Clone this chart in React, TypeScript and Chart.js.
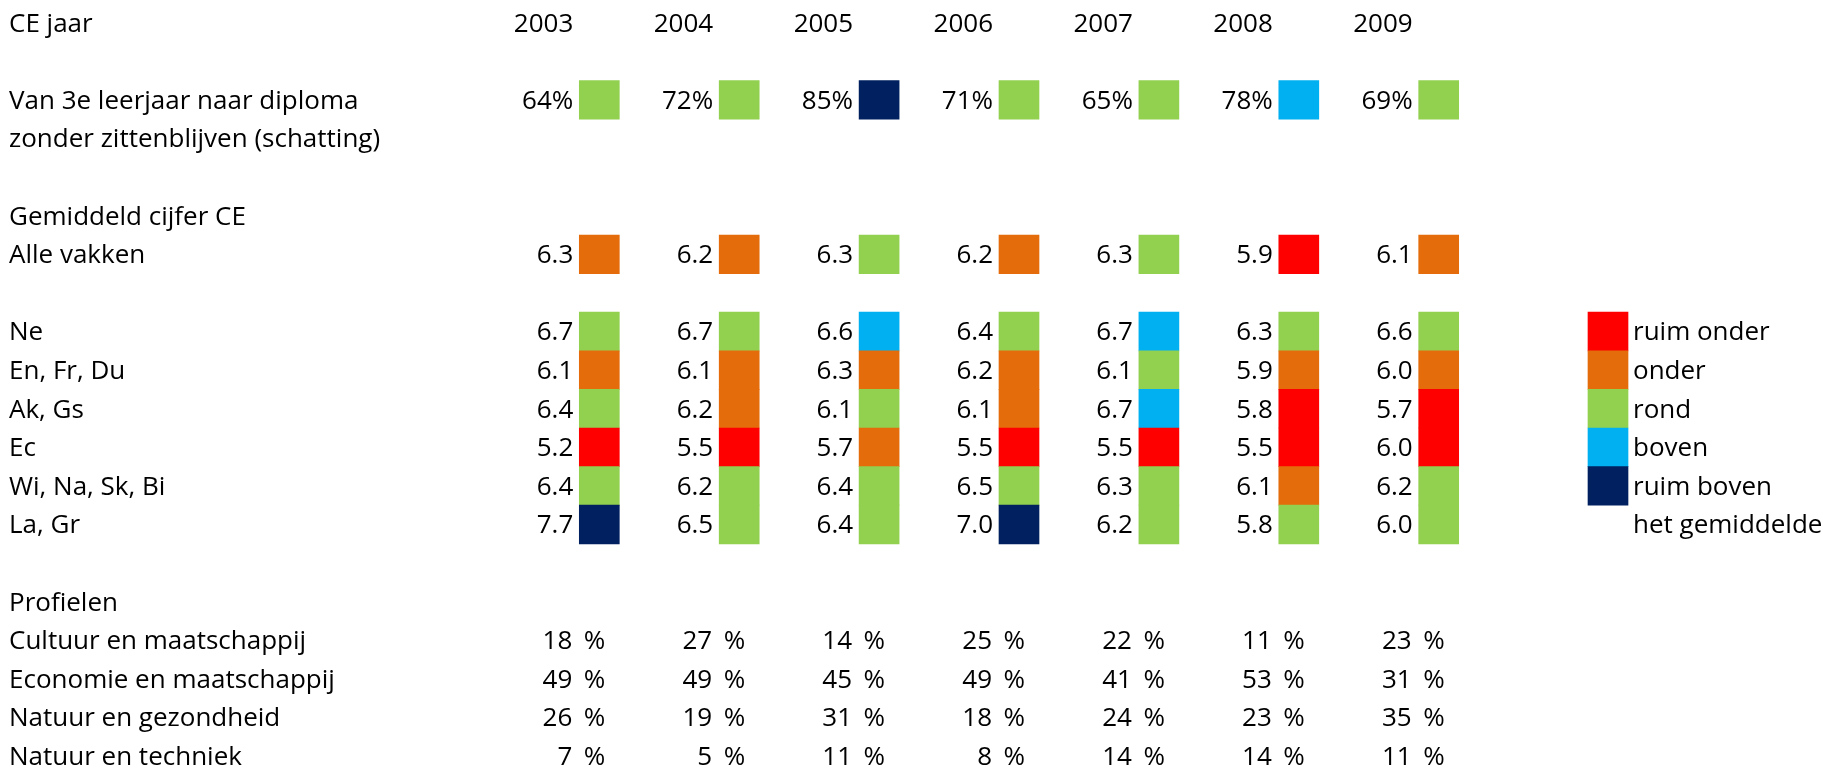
import React, { useEffect, useRef } from "react";
import { Chart, registerables } from "chart.js";

Chart.register(...registerables);

// ---------- DATA ----------
const years = ["2003", "2004", "2005", "2006", "2007", "2008", "2009"];

const doorstroomLabel = ["Van 3e leerjaar naar diploma", "zonder zittenblijven (schatting)"];
const doorstroomPct = [64, 72, 85, 71, 65, 78, 69];
const doorstroomCat = ["rond", "rond", "ruim boven", "rond", "rond", "boven", "rond"];

const gemiddeldTitle = "Gemiddeld cijfer CE";
const alleVakkenLabel = "Alle vakken";
const alleVakken = [6.3, 6.2, 6.3, 6.2, 6.3, 5.9, 6.1];
const alleVakkenCat = ["onder", "onder", "rond", "onder", "rond", "ruim onder", "onder"];

const vakken = ["Ne", "En, Fr, Du", "Ak, Gs", "Ec", "Wi, Na, Sk, Bi", "La, Gr"];
const vakNe = [6.7, 6.7, 6.6, 6.4, 6.7, 6.3, 6.6];
const vakMvt = [6.1, 6.1, 6.3, 6.2, 6.1, 5.9, 6.0];
const vakAkGs = [6.4, 6.2, 6.1, 6.1, 6.7, 5.8, 5.7];
const vakEc = [5.2, 5.5, 5.7, 5.5, 5.5, 5.5, 6.0];
const vakBeta = [6.4, 6.2, 6.4, 6.5, 6.3, 6.1, 6.2];
const vakLaGr = [7.7, 6.5, 6.4, 7.0, 6.2, 5.8, 6.0];
const vakCijfers = [vakNe, vakMvt, vakAkGs, vakEc, vakBeta, vakLaGr];

const catNe = ["rond", "rond", "boven", "rond", "boven", "rond", "rond"];
const catMvt = ["onder", "onder", "onder", "onder", "rond", "onder", "onder"];
const catAkGs = ["rond", "onder", "rond", "onder", "boven", "ruim onder", "ruim onder"];
const catEc = ["ruim onder", "ruim onder", "onder", "ruim onder", "ruim onder", "ruim onder", "ruim onder"];
const catBeta = ["rond", "rond", "rond", "rond", "rond", "onder", "rond"];
const catLaGr = ["ruim boven", "rond", "rond", "ruim boven", "rond", "rond", "rond"];
const vakCat = [catNe, catMvt, catAkGs, catEc, catBeta, catLaGr];

const profielenTitle = "Profielen";
const profielen = ["Cultuur en maatschappij", "Economie en maatschappij", "Natuur en gezondheid", "Natuur en techniek"];
const profCM = [18, 27, 14, 25, 22, 11, 23];
const profEM = [49, 49, 45, 49, 41, 53, 31];
const profNG = [26, 19, 31, 18, 24, 23, 35];
const profNT = [7, 5, 11, 8, 14, 14, 11];
const profielPct = [profCM, profEM, profNG, profNT];

const categories = ["ruim onder", "onder", "rond", "boven", "ruim boven"];
const categoryColors = ["#FF0000", "#E46C0A", "#92D050", "#00B0F0", "#002060"];
const legendNote = "het gemiddelde";
const headerLabel = "CE jaar";

// ---------- LAYOUT ----------
const W = 1823;
const H = 768;
const COL0_PX = 599.3;
const COL_STEP = 139.9;
const ROW0_PX = 22.7;
const ROW_STEP = 38.6;
const LABEL_PX = 9;
const LEGEND_PX = 1608;
const FONT = '26px "Open Sans"';
const CAP_HALF = 8.8;

const ROW_HEADER = 0;
const ROW_DOOR = 2;
const ROW_GEM = 5;
const ROW_ALLE = 6;
const ROW_VAK0 = 8;
const ROW_PROF_TITLE = 15;
const ROW_PROF0 = 16;

const colorOf = (cat: string) => categoryColors[categories.indexOf(cat)];
const fmt1 = (v: number) => v.toFixed(1);

export default function App() {
  const ref = useRef<HTMLCanvasElement | null>(null);

  useEffect(() => {
    const canvas = ref.current;
    if (!canvas) return;

    const cellData: any[] = [];
    const cellColors: string[] = [];
    years.forEach((_, c) => {
      cellData.push({ x: c, y: [ROW_DOOR - 0.5, ROW_DOOR + 0.5] });
      cellColors.push(colorOf(doorstroomCat[c]));
      cellData.push({ x: c, y: [ROW_ALLE - 0.5, ROW_ALLE + 0.5] });
      cellColors.push(colorOf(alleVakkenCat[c]));
      vakken.forEach((_, v) => {
        const r = ROW_VAK0 + v;
        cellData.push({ x: c, y: [r - 0.5, r + 0.5] });
        cellColors.push(colorOf(vakCat[v][c]));
      });
    });

    const legendX = (LEGEND_PX - COL0_PX) / COL_STEP;
    const legendData = categories.map((_, k) => ({
      x: legendX,
      y: [ROW_VAK0 + k - 0.5, ROW_VAK0 + k + 0.5],
    }));

    const textPlugin = {
      id: "tableText",
      afterDatasetsDraw(chart: any) {
        const ctx = chart.ctx as CanvasRenderingContext2D;
        const xs = chart.scales.x;
        const ys = chart.scales.y;
        const yb = (r: number) => ys.getPixelForValue(r) + CAP_HALF;
        const xc = (c: number) => xs.getPixelForValue(c);
        ctx.save();
        ctx.font = FONT;
        ctx.fillStyle = "#000000";
        ctx.textBaseline = "alphabetic";

        // left labels
        ctx.textAlign = "left";
        ctx.fillText(headerLabel, LABEL_PX, yb(ROW_HEADER));
        ctx.fillText(doorstroomLabel[0], LABEL_PX, yb(ROW_DOOR));
        ctx.fillText(doorstroomLabel[1], LABEL_PX, yb(ROW_DOOR + 1));
        ctx.fillText(gemiddeldTitle, LABEL_PX, yb(ROW_GEM));
        ctx.fillText(alleVakkenLabel, LABEL_PX, yb(ROW_ALLE));
        vakken.forEach((v, i) => ctx.fillText(v, LABEL_PX, yb(ROW_VAK0 + i)));
        ctx.fillText(profielenTitle, LABEL_PX, yb(ROW_PROF_TITLE));
        profielen.forEach((p, i) => ctx.fillText(p, LABEL_PX, yb(ROW_PROF0 + i)));

        // values
        ctx.textAlign = "right";
        years.forEach((yr, c) => {
          const xr = xc(c) - 26;
          ctx.fillText(yr, xr, yb(ROW_HEADER));
          ctx.fillText(doorstroomPct[c] + "%", xr, yb(ROW_DOOR));
          ctx.fillText(fmt1(alleVakken[c]), xr, yb(ROW_ALLE));
          vakken.forEach((_, v) => ctx.fillText(fmt1(vakCijfers[v][c]), xr, yb(ROW_VAK0 + v)));
          profielen.forEach((_, p) => {
            const y = yb(ROW_PROF0 + p);
            ctx.fillText("%", xc(c) + 6, y);
            ctx.fillText(String(profielPct[p][c]), xc(c) + 6 - 33, y);
          });
        });

        // legend labels
        ctx.textAlign = "left";
        const lx = xc(legendX) + 25;
        categories.forEach((k, i) => ctx.fillText(k, lx, yb(ROW_VAK0 + i)));
        ctx.fillText(legendNote, lx, yb(ROW_VAK0 + categories.length));
        ctx.restore();
      },
    };

    const chart = new Chart(canvas, {
      type: "bar",
      data: {
        datasets: [
          {
            label: "cellen",
            data: cellData,
            backgroundColor: cellColors,
            borderWidth: 0,
            barThickness: 40,
          } as any,
          {
            label: "legenda",
            data: legendData,
            backgroundColor: categoryColors,
            borderWidth: 0,
            barThickness: 40,
          } as any,
        ],
      },
      options: {
        animation: false,
        responsive: false,
        events: [],
        layout: { padding: 0 },
        plugins: { legend: { display: false }, tooltip: { enabled: false } },
        scales: {
          x: {
            type: "linear",
            display: false,
            offset: false,
            stacked: true,
            min: -COL0_PX / COL_STEP,
            max: (W - COL0_PX) / COL_STEP,
          },
          y: {
            type: "linear",
            display: false,
            reverse: true,
            min: -ROW0_PX / ROW_STEP,
            max: (H - ROW0_PX) / ROW_STEP,
          },
        },
      },
      plugins: [textPlugin],
    });

    return () => chart.destroy();
  }, []);

  return (
    <div style={{ position: "absolute", left: 0, top: 0, width: W, height: H, background: "#fff" }}>
      <canvas ref={ref} width={W} height={H} style={{ display: "block" }} />
    </div>
  );
}
